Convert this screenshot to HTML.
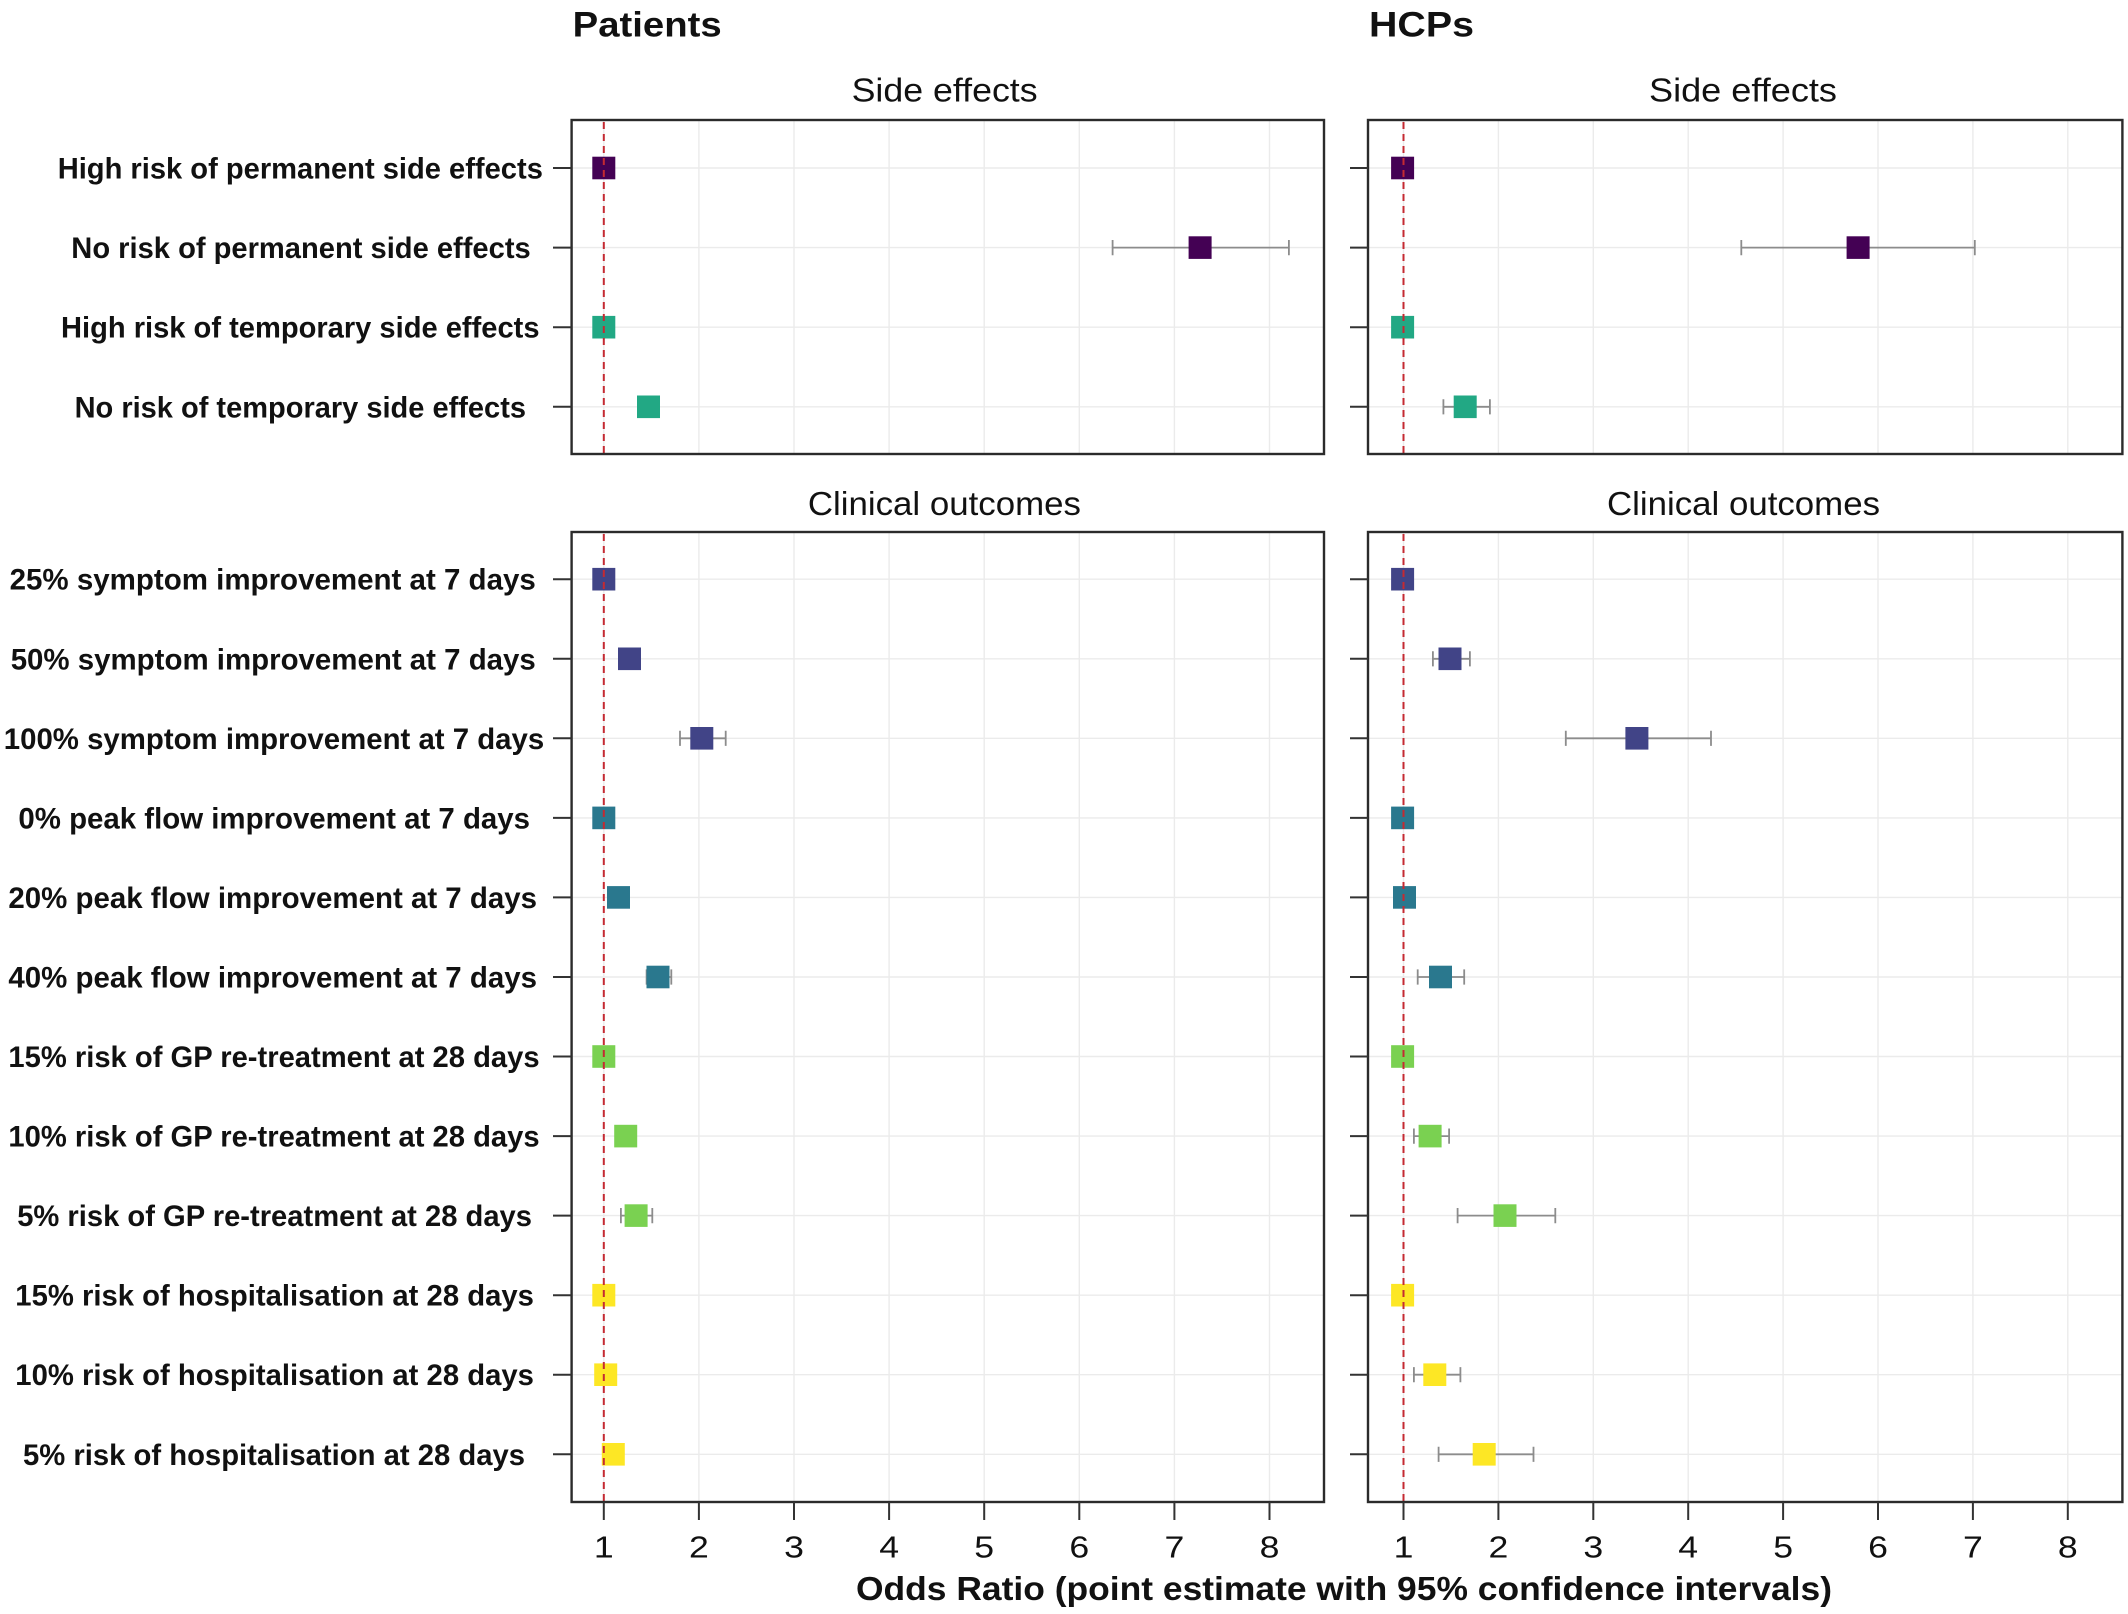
<!DOCTYPE html>
<html>
<head>
<meta charset="utf-8">
<style>
  html, body { margin: 0; padding: 0; background: #ffffff; }
  svg { display: block; }
  text { font-family: "Liberation Sans", Arial, sans-serif; fill: #111; }
  .lab { font-size: 30px; font-weight: bold; }
  .sub { font-size: 33px; }
  .main { font-size: 35px; font-weight: bold; }
  .tick { font-size: 31px; }
  .xt { font-size: 33px; font-weight: bold; }
</style>
</head>
<body>
<svg width="2128" height="1614" viewBox="0 0 2128 1614" xmlns="http://www.w3.org/2000/svg">
  <rect x="0" y="0" width="2128" height="1614" fill="#ffffff"/>

  <!-- Main titles -->
  <text class="main" x="572.7" y="36.5" textLength="149" lengthAdjust="spacingAndGlyphs">Patients</text>
  <text class="main" x="1369" y="36.5" textLength="105" lengthAdjust="spacingAndGlyphs">HCPs</text>

  <!-- Strip titles -->
  <text class="sub" x="851.6" y="101.5" textLength="186" lengthAdjust="spacingAndGlyphs">Side effects</text>
  <text class="sub" x="1649" y="101.5" textLength="188" lengthAdjust="spacingAndGlyphs">Side effects</text>
  <text class="sub" x="807.9" y="515" textLength="273" lengthAdjust="spacingAndGlyphs">Clinical outcomes</text>
  <text class="sub" x="1607" y="515" textLength="273" lengthAdjust="spacingAndGlyphs">Clinical outcomes</text>

  <!-- ===== Grid lines ===== -->
  <g stroke="#ebebeb" stroke-width="1.4" fill="none">
    <line x1="603.8" y1="120" x2="603.8" y2="454"/>
    <line x1="698.9" y1="120" x2="698.9" y2="454"/>
    <line x1="794.0" y1="120" x2="794.0" y2="454"/>
    <line x1="889.1" y1="120" x2="889.1" y2="454"/>
    <line x1="984.2" y1="120" x2="984.2" y2="454"/>
    <line x1="1079.3" y1="120" x2="1079.3" y2="454"/>
    <line x1="1174.4" y1="120" x2="1174.4" y2="454"/>
    <line x1="1269.5" y1="120" x2="1269.5" y2="454"/>
    <line x1="603.8" y1="532" x2="603.8" y2="1502"/>
    <line x1="698.9" y1="532" x2="698.9" y2="1502"/>
    <line x1="794.0" y1="532" x2="794.0" y2="1502"/>
    <line x1="889.1" y1="532" x2="889.1" y2="1502"/>
    <line x1="984.2" y1="532" x2="984.2" y2="1502"/>
    <line x1="1079.3" y1="532" x2="1079.3" y2="1502"/>
    <line x1="1174.4" y1="532" x2="1174.4" y2="1502"/>
    <line x1="1269.5" y1="532" x2="1269.5" y2="1502"/>
    <line x1="1403.5" y1="120" x2="1403.5" y2="454"/>
    <line x1="1498.4" y1="120" x2="1498.4" y2="454"/>
    <line x1="1593.3" y1="120" x2="1593.3" y2="454"/>
    <line x1="1688.2" y1="120" x2="1688.2" y2="454"/>
    <line x1="1783.1" y1="120" x2="1783.1" y2="454"/>
    <line x1="1878.0" y1="120" x2="1878.0" y2="454"/>
    <line x1="1972.9" y1="120" x2="1972.9" y2="454"/>
    <line x1="2067.8" y1="120" x2="2067.8" y2="454"/>
    <line x1="1403.5" y1="532" x2="1403.5" y2="1502"/>
    <line x1="1498.4" y1="532" x2="1498.4" y2="1502"/>
    <line x1="1593.3" y1="532" x2="1593.3" y2="1502"/>
    <line x1="1688.2" y1="532" x2="1688.2" y2="1502"/>
    <line x1="1783.1" y1="532" x2="1783.1" y2="1502"/>
    <line x1="1878.0" y1="532" x2="1878.0" y2="1502"/>
    <line x1="1972.9" y1="532" x2="1972.9" y2="1502"/>
    <line x1="2067.8" y1="532" x2="2067.8" y2="1502"/>
    <line x1="571.6" y1="168" x2="1324" y2="168"/>
    <line x1="571.6" y1="247.6" x2="1324" y2="247.6"/>
    <line x1="571.6" y1="327.2" x2="1324" y2="327.2"/>
    <line x1="571.6" y1="406.8" x2="1324" y2="406.8"/>
    <line x1="1368" y1="168" x2="2122.4" y2="168"/>
    <line x1="1368" y1="247.6" x2="2122.4" y2="247.6"/>
    <line x1="1368" y1="327.2" x2="2122.4" y2="327.2"/>
    <line x1="1368" y1="406.8" x2="2122.4" y2="406.8"/>
    <line x1="571.6" y1="579.2" x2="1324" y2="579.2"/>
    <line x1="571.6" y1="658.8" x2="1324" y2="658.8"/>
    <line x1="571.6" y1="738.3" x2="1324" y2="738.3"/>
    <line x1="571.6" y1="817.9" x2="1324" y2="817.9"/>
    <line x1="571.6" y1="897.4" x2="1324" y2="897.4"/>
    <line x1="571.6" y1="977.0" x2="1324" y2="977.0"/>
    <line x1="571.6" y1="1056.5" x2="1324" y2="1056.5"/>
    <line x1="571.6" y1="1136.1" x2="1324" y2="1136.1"/>
    <line x1="571.6" y1="1215.6" x2="1324" y2="1215.6"/>
    <line x1="571.6" y1="1295.2" x2="1324" y2="1295.2"/>
    <line x1="571.6" y1="1374.7" x2="1324" y2="1374.7"/>
    <line x1="571.6" y1="1454.3" x2="1324" y2="1454.3"/>
    <line x1="1368" y1="579.2" x2="2122.4" y2="579.2"/>
    <line x1="1368" y1="658.8" x2="2122.4" y2="658.8"/>
    <line x1="1368" y1="738.3" x2="2122.4" y2="738.3"/>
    <line x1="1368" y1="817.9" x2="2122.4" y2="817.9"/>
    <line x1="1368" y1="897.4" x2="2122.4" y2="897.4"/>
    <line x1="1368" y1="977.0" x2="2122.4" y2="977.0"/>
    <line x1="1368" y1="1056.5" x2="2122.4" y2="1056.5"/>
    <line x1="1368" y1="1136.1" x2="2122.4" y2="1136.1"/>
    <line x1="1368" y1="1215.6" x2="2122.4" y2="1215.6"/>
    <line x1="1368" y1="1295.2" x2="2122.4" y2="1295.2"/>
    <line x1="1368" y1="1374.7" x2="2122.4" y2="1374.7"/>
    <line x1="1368" y1="1454.3" x2="2122.4" y2="1454.3"/>
  </g>

  <!-- ===== Confidence intervals ===== -->
  <g stroke="#8c8c8c" stroke-width="1.8" fill="none">
    <path d="M1112.6 247.6 H1288.9 M1112.6 240 V255.2 M1288.9 240 V255.2"/>
    <path d="M1741.3 247.6 H1974.8 M1741.3 240 V255.2 M1974.8 240 V255.2"/>
    <path d="M1443.4 406.8 H1489.9 M1443.4 399.2 V414.4 M1489.9 399.2 V414.4"/>
    <path d="M680.0 738.3 H725.7 M680.0 730.7 V745.9 M725.7 730.7 V745.9"/>
    <path d="M646.6 977.0 H671.3 M646.6 969.4 V984.6 M671.3 969.4 V984.6"/>
    <path d="M620.9 1215.6 H652.3 M620.9 1208 V1223.2 M652.3 1208 V1223.2"/>
    <path d="M1432.9 658.8 H1469.9 M1432.9 651.2 V666.4 M1469.9 651.2 V666.4"/>
    <path d="M1565.8 738.3 H1711.0 M1565.8 730.7 V745.9 M1711.0 730.7 V745.9"/>
    <path d="M1417.7 977.0 H1464.2 M1417.7 969.4 V984.6 M1464.2 969.4 V984.6"/>
    <path d="M1413.9 1136.1 H1449.1 M1413.9 1128.5 V1143.7 M1449.1 1128.5 V1143.7"/>
    <path d="M1457.6 1215.6 H1555.3 M1457.6 1208 V1223.2 M1555.3 1208 V1223.2"/>
    <path d="M1413.9 1374.7 H1460.4 M1413.9 1367.1 V1382.3 M1460.4 1367.1 V1382.3"/>
    <path d="M1438.6 1454.3 H1533.5 M1438.6 1446.7 V1461.9 M1533.5 1446.7 V1461.9"/>
  </g>

  <!-- ===== Points ===== -->
  <g>
    <rect x="592.3" y="156.7" width="23" height="22.6" fill="#440154"/>
    <rect x="1188.6" y="236.3" width="23" height="22.6" fill="#440154"/>
    <rect x="592.3" y="315.9" width="23" height="22.6" fill="#22a884"/>
    <rect x="637.0" y="395.5" width="23" height="22.6" fill="#22a884"/>
    <rect x="1391.1" y="156.7" width="23" height="22.6" fill="#440154"/>
    <rect x="1846.6" y="236.3" width="23" height="22.6" fill="#440154"/>
    <rect x="1391.1" y="315.9" width="23" height="22.6" fill="#22a884"/>
    <rect x="1453.7" y="395.5" width="23" height="22.6" fill="#22a884"/>

    <rect x="592.3" y="567.9" width="23" height="22.6" fill="#414487"/>
    <rect x="618.0" y="647.5" width="23" height="22.6" fill="#414487"/>
    <rect x="690.3" y="727.0" width="23" height="22.6" fill="#414487"/>
    <rect x="592.3" y="806.6" width="23" height="22.6" fill="#2a788e"/>
    <rect x="607.0" y="886.1" width="23" height="22.6" fill="#2a788e"/>
    <rect x="646.5" y="965.7" width="23" height="22.6" fill="#2a788e"/>
    <rect x="592.3" y="1045.2" width="23" height="22.6" fill="#7ad151"/>
    <rect x="614.2" y="1124.8" width="23" height="22.6" fill="#7ad151"/>
    <rect x="624.6" y="1204.3" width="23" height="22.6" fill="#7ad151"/>
    <rect x="592.3" y="1283.9" width="23" height="22.6" fill="#fde725"/>
    <rect x="594.2" y="1363.4" width="23" height="22.6" fill="#fde725"/>
    <rect x="601.8" y="1443.0" width="23" height="22.6" fill="#fde725"/>

    <rect x="1391.1" y="567.9" width="23" height="22.6" fill="#414487"/>
    <rect x="1438.5" y="647.5" width="23" height="22.6" fill="#414487"/>
    <rect x="1625.4" y="727.0" width="23" height="22.6" fill="#414487"/>
    <rect x="1391.1" y="806.6" width="23" height="22.6" fill="#2a788e"/>
    <rect x="1393.0" y="886.1" width="23" height="22.6" fill="#2a788e"/>
    <rect x="1429.0" y="965.7" width="23" height="22.6" fill="#2a788e"/>
    <rect x="1391.1" y="1045.2" width="23" height="22.6" fill="#7ad151"/>
    <rect x="1418.6" y="1124.8" width="23" height="22.6" fill="#7ad151"/>
    <rect x="1493.5" y="1204.3" width="23" height="22.6" fill="#7ad151"/>
    <rect x="1391.1" y="1283.9" width="23" height="22.6" fill="#fde725"/>
    <rect x="1423.3" y="1363.4" width="23" height="22.6" fill="#fde725"/>
    <rect x="1472.7" y="1443.0" width="23" height="22.6" fill="#fde725"/>
  </g>

  <!-- ===== Reference dashed lines ===== -->
  <g stroke="#c42a32" stroke-width="2" stroke-dasharray="7 5" fill="none">
    <line x1="603.8" y1="122" x2="603.8" y2="453"/>
    <line x1="603.8" y1="534" x2="603.8" y2="1501"/>
    <line x1="1403.5" y1="122" x2="1403.5" y2="453"/>
    <line x1="1403.5" y1="534" x2="1403.5" y2="1501"/>
  </g>

  <!-- ===== Panel borders ===== -->
  <g stroke="#2b2b2b" stroke-width="2.4" fill="none">
    <rect x="571.6" y="120" width="752.4" height="334"/>
    <rect x="571.6" y="532" width="752.4" height="970"/>
    <rect x="1368" y="120" width="754.4" height="334"/>
    <rect x="1368" y="532" width="754.4" height="970"/>
  </g>

  <!-- ===== Ticks ===== -->
  <g stroke="#333" stroke-width="2" fill="none">
    <path d="M553 168 H571.6 M553 247.6 H571.6 M553 327.2 H571.6 M553 406.8 H571.6"/>
    <path d="M553 579.2 H571.6 M553 658.8 H571.6 M553 738.3 H571.6 M553 817.9 H571.6 M553 897.4 H571.6 M553 977.0 H571.6 M553 1056.5 H571.6 M553 1136.1 H571.6 M553 1215.6 H571.6 M553 1295.2 H571.6 M553 1374.7 H571.6 M553 1454.3 H571.6"/>
    <path d="M1350 168 H1368 M1350 247.6 H1368 M1350 327.2 H1368 M1350 406.8 H1368"/>
    <path d="M1350 579.2 H1368 M1350 658.8 H1368 M1350 738.3 H1368 M1350 817.9 H1368 M1350 897.4 H1368 M1350 977.0 H1368 M1350 1056.5 H1368 M1350 1136.1 H1368 M1350 1215.6 H1368 M1350 1295.2 H1368 M1350 1374.7 H1368 M1350 1454.3 H1368"/>
    <path d="M603.8 1502 V1520 M698.9 1502 V1520 M794.0 1502 V1520 M889.1 1502 V1520 M984.2 1502 V1520 M1079.3 1502 V1520 M1174.4 1502 V1520 M1269.5 1502 V1520"/>
    <path d="M1403.5 1502 V1520 M1498.4 1502 V1520 M1593.3 1502 V1520 M1688.2 1502 V1520 M1783.1 1502 V1520 M1878.0 1502 V1520 M1972.9 1502 V1520 M2067.8 1502 V1520"/>
  </g>

  <!-- ===== X tick labels ===== -->
  <g class="tick" text-anchor="middle">
    <text transform="translate(603.8,1557.5) scale(1.15,1)">1</text>
    <text transform="translate(698.9,1557.5) scale(1.15,1)">2</text>
    <text transform="translate(794.0,1557.5) scale(1.15,1)">3</text>
    <text transform="translate(889.1,1557.5) scale(1.15,1)">4</text>
    <text transform="translate(984.2,1557.5) scale(1.15,1)">5</text>
    <text transform="translate(1079.3,1557.5) scale(1.15,1)">6</text>
    <text transform="translate(1174.4,1557.5) scale(1.15,1)">7</text>
    <text transform="translate(1269.5,1557.5) scale(1.15,1)">8</text>
    <text transform="translate(1403.5,1557.5) scale(1.15,1)">1</text>
    <text transform="translate(1498.4,1557.5) scale(1.15,1)">2</text>
    <text transform="translate(1593.3,1557.5) scale(1.15,1)">3</text>
    <text transform="translate(1688.2,1557.5) scale(1.15,1)">4</text>
    <text transform="translate(1783.1,1557.5) scale(1.15,1)">5</text>
    <text transform="translate(1878.0,1557.5) scale(1.15,1)">6</text>
    <text transform="translate(1972.9,1557.5) scale(1.15,1)">7</text>
    <text transform="translate(2067.8,1557.5) scale(1.15,1)">8</text>
  </g>

  <!-- X axis title -->
  <text class="xt" x="856" y="1600" textLength="976" lengthAdjust="spacingAndGlyphs">Odds Ratio (point estimate with 95% confidence intervals)</text>

  <!-- ===== Y labels: side effects ===== -->
  <g class="lab">
    <text x="57.7" y="178.5" textLength="485.2" lengthAdjust="spacingAndGlyphs">High risk of permanent side effects</text>
    <text x="71.3" y="258.1" textLength="459.4" lengthAdjust="spacingAndGlyphs">No risk of permanent side effects</text>
    <text x="61" y="337.7" textLength="478.5" lengthAdjust="spacingAndGlyphs">High risk of temporary side effects</text>
    <text x="74.6" y="417.3" textLength="451.4" lengthAdjust="spacingAndGlyphs">No risk of temporary side effects</text>
  </g>

  <!-- ===== Y labels: clinical outcomes ===== -->
  <g class="lab">
    <text x="9.6" y="589.7" textLength="526.2" lengthAdjust="spacingAndGlyphs">25% symptom improvement at 7 days</text>
    <text x="10.7" y="669.3" textLength="525.1" lengthAdjust="spacingAndGlyphs">50% symptom improvement at 7 days</text>
    <text x="3.8" y="748.8" textLength="540.4" lengthAdjust="spacingAndGlyphs">100% symptom improvement at 7 days</text>
    <text x="18.4" y="828.4" textLength="511.6" lengthAdjust="spacingAndGlyphs">0% peak flow improvement at 7 days</text>
    <text x="8.4" y="907.9" textLength="528.6" lengthAdjust="spacingAndGlyphs">20% peak flow improvement at 7 days</text>
    <text x="8.4" y="987.5" textLength="528.6" lengthAdjust="spacingAndGlyphs">40% peak flow improvement at 7 days</text>
    <text x="8.4" y="1067.0" textLength="531.2" lengthAdjust="spacingAndGlyphs">15% risk of GP re-treatment at 28 days</text>
    <text x="8.4" y="1146.6" textLength="531.2" lengthAdjust="spacingAndGlyphs">10% risk of GP re-treatment at 28 days</text>
    <text x="17.2" y="1226.1" textLength="514.8" lengthAdjust="spacingAndGlyphs">5% risk of GP re-treatment at 28 days</text>
    <text x="15.3" y="1305.7" textLength="518.6" lengthAdjust="spacingAndGlyphs">15% risk of hospitalisation at 28 days</text>
    <text x="15.3" y="1385.2" textLength="518.6" lengthAdjust="spacingAndGlyphs">10% risk of hospitalisation at 28 days</text>
    <text x="23" y="1464.8" textLength="502" lengthAdjust="spacingAndGlyphs">5% risk of hospitalisation at 28 days</text>
  </g>
</svg>
</body>
</html>
